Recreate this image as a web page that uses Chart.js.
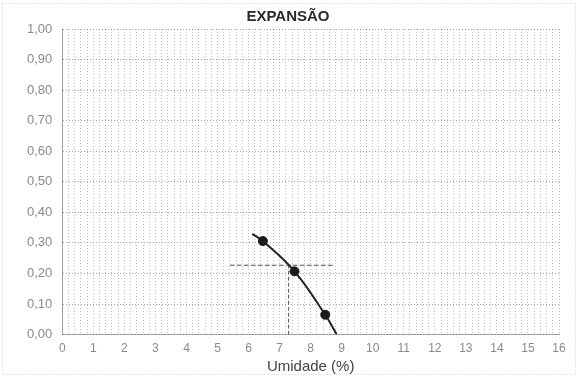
<!DOCTYPE html>
<html>
<head>
<meta charset="utf-8">
<script src="https://cdn.jsdelivr.net/npm/chart.js@4/dist/chart.umd.min.js"></script>
<style>
  html, body { margin: 0; padding: 0; background: #fff; }
  #wrap { width: 584px; height: 378px; position: relative; }
</style>
</head>
<body>
<div id="wrap"><canvas id="expChart"></canvas></div>
<script>
// Measured points (moisture % vs expansion)
const moisture = [6.46, 7.48, 8.47];
const expansion = [0.306, 0.207, 0.065];

// Trend curve
const trendX = [6.14, 6.46, 7.48, 8.47, 8.82];
const trendY = [0.328, 0.306, 0.207, 0.065, 0.004];

// Dashed guide lines
const guideHX = [5.41, 8.79];
const guideHY = [0.227, 0.227];
const guideVX = [7.29, 7.29];
const guideVY = [0.227, 0];

const xTicks = ['0','1','2','3','4','5','6','7','8','9','10','11','12','13','14','15','16'];

const toPts = (xs, ys) => xs.map((x, i) => ({ x: x, y: ys[i] }));

// white background + faint outer frame
const framePlugin = {
    id: 'frame',
    beforeDraw(chart) {
        const c = chart.ctx;
        c.save();
        c.fillStyle = '#fff';
        c.fillRect(0, 0, chart.width, chart.height);
        c.strokeStyle = 'rgba(160,160,160,0.5)';
        c.setLineDash([1, 2]);
        c.lineWidth = 1;
        c.strokeRect(2.5, 3.5, 573, 371);
        c.restore();
    }
};

const ctx = document.getElementById('expChart');

new Chart(ctx.getContext('2d'), {
    type: 'scatter',
    data: {
        datasets: [
            {
                label: 'Pontos',
                data: toPts(moisture, expansion),
                backgroundColor: '#1c1c1c',
                borderColor: '#1c1c1c',
                pointRadius: 4.5,
                showLine: false
            },
            {
                label: 'Tendência',
                data: toPts(trendX, trendY),
                borderColor: '#222',
                borderWidth: 2,
                pointRadius: 0,
                showLine: true,
                tension: 0.4
            },
            {
                label: 'Guia H',
                data: toPts(guideHX, guideHY),
                borderColor: '#555',
                borderWidth: 1,
                borderDash: [4, 3],
                pointRadius: 0,
                showLine: true
            },
            {
                label: 'Guia V',
                data: toPts(guideVX, guideVY),
                borderColor: '#555',
                borderWidth: 1,
                borderDash: [3, 3],
                pointRadius: 0,
                showLine: true
            }
        ]
    },
    options: {
        responsive: true,
        maintainAspectRatio: false,
        animation: false,
        layout: {
            padding: { left: 17, right: 25, top: 0, bottom: 4 }
        },
        scales: {
            x: {
                type: 'linear',
                min: 0,
                max: 16,
                ticks: {
                    stepSize: 0.2,
                    autoSkip: false,
                    maxTicksLimit: 200,
                    maxRotation: 0,
                    padding: 7,
                    color: '#8a8a8a',
                    font: { family: 'Liberation Sans, Arial', size: 12 },
                    callback: function(v) {
                        const r = Math.round(v);
                        return Math.abs(v - r) < 1e-6 ? xTicks[r] : '';
                    }
                },
                grid: {
                    color: 'rgba(110,110,110,0.45)',
                    lineWidth: 1,
                    drawTicks: false
                },
                border: { color: 'rgba(110,110,110,0.6)', dash: [1, 2] },
                title: {
                    display: true,
                    text: 'Umidade (%)',
                    color: '#444',
                    font: { family: 'Liberation Sans, Arial', size: 15, lineHeight: 1 },
                    padding: { top: -4, bottom: 0 }
                }
            },
            y: {
                min: 0,
                max: 1,
                ticks: {
                    stepSize: 0.1,
                    padding: 10,
                    color: '#8a8a8a',
                    font: { family: 'Liberation Sans, Arial', size: 13 },
                    callback: function(v) {
                        return v.toFixed(2).replace('.', ',');
                    }
                },
                grid: {
                    color: 'rgba(90,90,90,0.55)',
                    lineWidth: 1,
                    drawTicks: false
                },
                border: { color: 'rgba(110,110,110,0.6)', dash: [1, 2] }
            }
        },
        elements: {
            line: { borderCapStyle: 'round' }
        },
        plugins: {
            legend: { display: false },
            tooltip: { enabled: false },
            title: {
                display: true,
                text: 'EXPANSÃO',
                color: '#2a2a2a',
                font: { family: 'Liberation Sans, Arial', size: 15, weight: 'bold' },
                padding: { top: 8, bottom: 3 }
            }
        }
    },
    plugins: [framePlugin]
});
</script>
</body>
</html>
